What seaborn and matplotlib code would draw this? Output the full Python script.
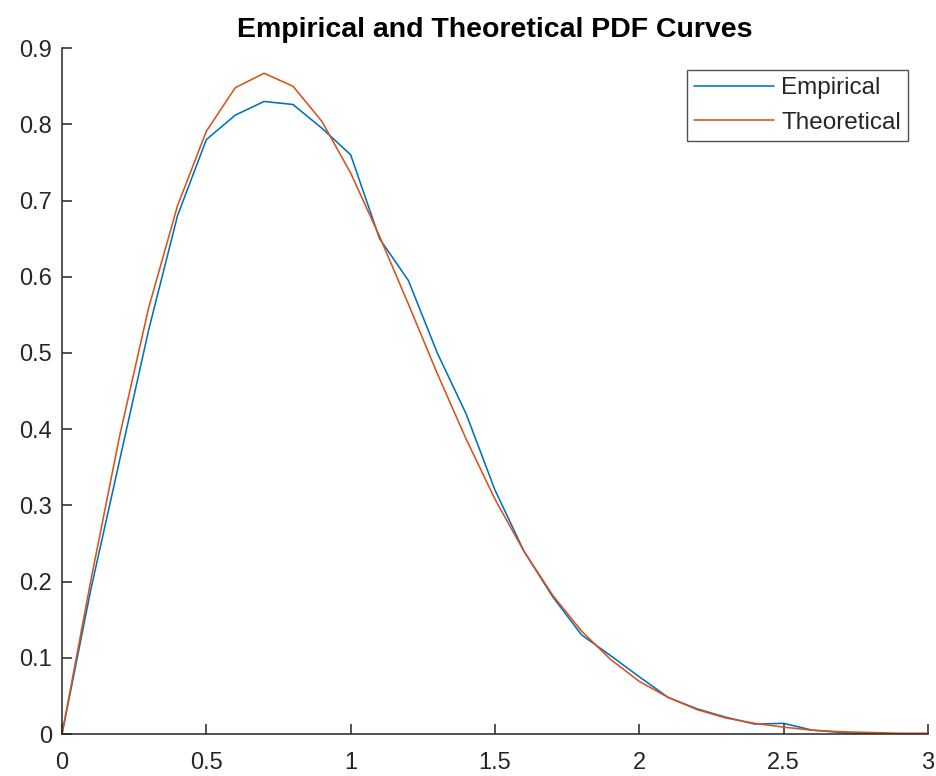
import matplotlib
matplotlib.use("Agg")
import matplotlib.pyplot as plt
import seaborn as sns
import pandas as pd

x_vals = [0.0, 0.1, 0.2, 0.3, 0.4, 0.5, 0.6, 0.7, 0.8, 0.9, 1.0,
          1.1, 1.2, 1.3, 1.4, 1.5, 1.6, 1.7, 1.8, 1.9, 2.0,
          2.1, 2.2, 2.3, 2.4, 2.5, 2.6, 2.7, 2.8, 2.9, 3.0]
empirical = [0.0, 0.19, 0.36, 0.53, 0.68, 0.78, 0.812, 0.83, 0.826, 0.795, 0.76,
             0.65, 0.595, 0.50, 0.42, 0.32, 0.24, 0.18, 0.13, 0.103, 0.075,
             0.048, 0.033, 0.022, 0.013, 0.014, 0.005, 0.002, 0.0, -0.001, -0.001]
theoretical = [0.0, 0.202, 0.392, 0.559, 0.693, 0.791, 0.848, 0.867, 0.850, 0.804, 0.736,
               0.653, 0.564, 0.473, 0.387, 0.308, 0.240, 0.182, 0.135, 0.098, 0.069,
               0.048, 0.032, 0.021, 0.014, 0.009, 0.005, 0.003, 0.002, 0.001, 0.001]
series_names = ["Empirical", "Theoretical"]
title = "Empirical and Theoretical PDF Curves"
xticks = [0, 0.5, 1, 1.5, 2, 2.5, 3]
xtick_labels = ["0", "0.5", "1", "1.5", "2", "2.5", "3"]
yticks = [0, 0.1, 0.2, 0.3, 0.4, 0.5, 0.6, 0.7, 0.8, 0.9]
ytick_labels = ["0", "0.1", "0.2", "0.3", "0.4", "0.5", "0.6", "0.7", "0.8", "0.9"]

df = pd.DataFrame({
    "x": x_vals * 2,
    "y": empirical + theoretical,
    "series": [series_names[0]] * len(x_vals) + [series_names[1]] * len(x_vals),
})

sns.set_theme(style="white")
plt.rcParams["font.family"] = ["Liberation Sans", "DejaVu Sans"]
plt.rcParams["xtick.direction"] = "in"
plt.rcParams["ytick.direction"] = "in"

fig = plt.figure(figsize=(9.37, 7.76), dpi=100)
ax = fig.add_axes([0.0662, 0.0541, 0.9242, 0.8839])
sns.lineplot(data=df, x="x", y="y", hue="series",
             palette={"Empirical": "#0072BD", "Theoretical": "#D95319"},
             linewidth=1.15, ax=ax, legend=True)

ax.set_xlim(0, 3)
ax.set_ylim(0, 0.9)
ax.set_xticks(xticks)
ax.set_xticklabels(xtick_labels)
ax.set_yticks(yticks)
ax.set_yticklabels(ytick_labels)
ax.set_xlabel("")
ax.set_ylabel("")
for s in ["top", "right"]:
    ax.spines[s].set_visible(False)
for s in ["left", "bottom"]:
    ax.spines[s].set_color("#262626")
    ax.spines[s].set_linewidth(1.1)
ax.tick_params(axis="both", direction="in", length=7, width=1.1, color="#262626",
               labelsize=17, labelcolor="#262626", left=True, bottom=True)
ax.tick_params(axis="y", pad=7)
ax.tick_params(axis="x", pad=13)
ax.set_title(title, fontsize=20.5, fontweight="bold", color="black", pad=8)

leg = ax.legend(loc="upper right", bbox_to_anchor=(0.977, 0.968), fontsize=17.5,
                frameon=True, fancybox=False, edgecolor="#262626",
                handlelength=3.3, borderpad=0.3, labelspacing=0.5,
                handletextpad=0.28, borderaxespad=0.0)
leg.get_frame().set_linewidth(1.0)

fig.savefig("out.png", dpi=100, facecolor="white")
